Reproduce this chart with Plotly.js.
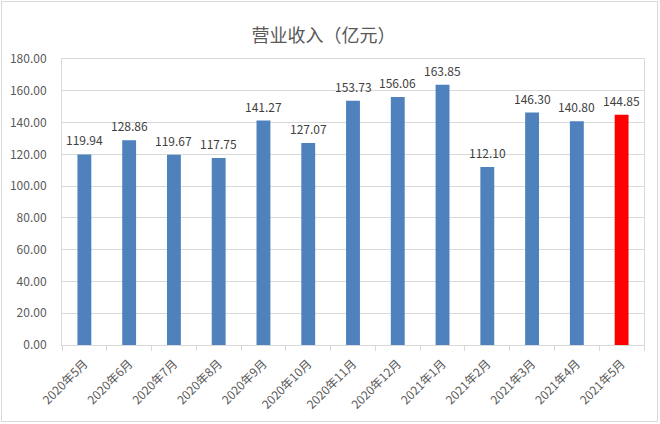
<!DOCTYPE html>
<html>
<head>
<meta charset="utf-8">
<script src="https://cdn.plot.ly/plotly-3.0.1.min.js"></script>
<style>
html,body{margin:0;padding:0;background:#fff;}
#wrap{position:relative;width:660px;height:424px;}
#chart{width:660px;height:424px;}
#frame{position:absolute;left:1px;top:1px;width:655px;height:419px;border:1px solid #d9d9d9;pointer-events:none;}
</style>
</head>
<body>
<div id="wrap"><div id="chart"></div><div id="frame"></div></div>
<script>
const categories = ["2020年5月","2020年6月","2020年7月","2020年8月","2020年9月","2020年10月","2020年11月","2020年12月","2021年1月","2021年2月","2021年3月","2021年4月","2021年5月"];
const revenue = [119.94,128.86,119.67,117.75,141.27,127.07,153.73,156.06,163.85,112.10,146.30,140.80,144.85];
const yTicks = [0,20,40,60,80,100,120,140,160,180];

const colors = categories.map((c,i)=> i===categories.length-1 ? "#ff0000" : "#4f81bd");
const font = "'Noto Sans CJK SC','Microsoft YaHei',sans-serif";

const trace = {
  type: "bar",
  x: categories,
  y: revenue,
  marker: {color: colors},
  hoverinfo: "x+y"
};

const annotations = categories.map((c,i)=>({
  x: c, y: revenue[i], xref: "x", yref: "y",
  text: revenue[i].toFixed(2),
  showarrow: false, yanchor: "bottom", yshift: 4,
  font: {family: font, size: 12, color: "#404040"}
}));

const layout = {
  width: 660, height: 424,
  margin: {l: 62, r: 16, t: 59, b: 79},
  paper_bgcolor: "#fff", plot_bgcolor: "#fff",
  title: {text: "营业收入（亿元）", font: {family: font, size: 18, color: "#595959"}, x: 0.49, xanchor: "center", y: 0.915, yanchor: "middle"},
  bargap: 0.69,
  showlegend: false,
  annotations: annotations,
  xaxis: {
    type: "category",
    tickangle: -45,
    tickfont: {family: font, size: 12, color: "#595959"},
    showline: true, linecolor: "#d9d9d9", linewidth: 1, mirror: true,
    ticks: "outside", tickson: "boundaries", ticklen: 5, tickcolor: "#d9d9d9",
    ticklabelstandoff: 6,
    showgrid: false
  },
  yaxis: {
    range: [0, 180],
    tickvals: yTicks,
    ticktext: yTicks.map(v=>v.toFixed(2)),
    tickfont: {family: font, size: 12, color: "#595959"},
    showgrid: true, gridcolor: "#d9d9d9", gridwidth: 1,
    showline: true, linecolor: "#d9d9d9", mirror: true,
    zeroline: false,
    ticks: "", ticklabelstandoff: 12
  }
};

Plotly.newPlot("chart", [trace], layout, {displayModeBar: false, staticPlot: true});
</script>
</body>
</html>
